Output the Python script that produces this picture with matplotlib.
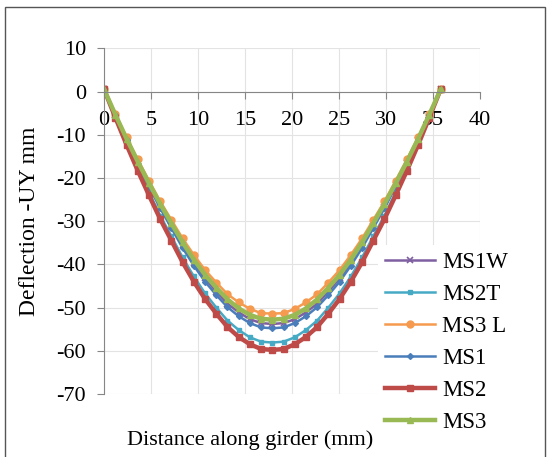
import numpy as np
import matplotlib
matplotlib.use("Agg")
import matplotlib.pyplot as plt
from matplotlib.patches import Rectangle

plt.rcParams['font.family'] = ['Liberation Serif', 'DejaVu Serif']
plt.rcParams['axes.unicode_minus'] = False

# distance along girder, 31 stations
x = np.linspace(0, 35.8, 31)

ms1w = [0.5, -5.4, -11.1, -16.5, -21.6, -26.6, -31.1, -35.6, -39.6, -43.2, -46.3, -49.1, -51.1, -52.7, -53.6, -53.8,
        -53.6, -52.7, -51.1, -49.1, -46.3, -43.2, -39.6, -35.6, -31.1, -26.6, -21.6, -16.5, -11.1, -5.4, 0.5]
ms2t = [0.5, -5.8, -12.0, -17.8, -23.3, -28.7, -33.5, -38.4, -42.8, -46.7, -50.0, -53.0, -55.2, -56.9, -57.9, -58.1,
        -57.9, -56.9, -55.2, -53.0, -50.0, -46.7, -42.8, -38.4, -33.5, -28.7, -23.3, -17.8, -12.0, -5.8, 0.5]
ms3l = [0.5, -5.2, -10.6, -15.7, -20.6, -25.4, -29.7, -34.0, -37.8, -41.3, -44.2, -46.9, -48.8, -50.3, -51.3, -51.4,
        -51.3, -50.3, -48.8, -46.9, -44.2, -41.3, -37.8, -34.0, -29.7, -25.4, -20.6, -15.7, -10.6, -5.2, 0.5]
ms1 = [0.5, -5.5, -11.3, -16.8, -22.0, -27.0, -31.6, -36.2, -40.3, -44.0, -47.1, -49.9, -52.0, -53.6, -54.6, -54.8,
       -54.6, -53.6, -52.0, -49.9, -47.1, -44.0, -40.3, -36.2, -31.6, -27.0, -22.0, -16.8, -11.3, -5.5, 0.5]
ms2 = [0.5, -6.0, -12.3, -18.3, -24.0, -29.5, -34.5, -39.5, -44.0, -48.0, -51.4, -54.5, -56.8, -58.5, -59.6, -59.8,
       -59.6, -58.5, -56.8, -54.5, -51.4, -48.0, -44.0, -39.5, -34.5, -29.5, -24.0, -18.3, -12.3, -6.0, 0.5]
ms3 = [0.5, -5.3, -10.9, -16.2, -21.2, -26.0, -30.5, -34.9, -38.9, -42.4, -45.4, -48.1, -50.2, -51.7, -52.6, -52.8,
       -52.6, -51.7, -50.2, -48.1, -45.4, -42.4, -38.9, -34.9, -30.5, -26.0, -21.2, -16.2, -10.9, -5.3, 0.5]

fig = plt.figure(figsize=(5.48, 4.57), dpi=100)
ax = fig.add_axes([0.190, 0.138, 0.686, 0.756])

ax.plot(x, ms1w, color="#7E5FA1", lw=1.8, marker="x", ms=4, mew=1.2, label="MS1W")
ax.plot(x, ms2t, color="#46AAC5", lw=1.8, marker="s", ms=3, label="MS2T")
ax.plot(x, ms3l, color="#F59A4E", lw=1.8, marker="o", ms=5, label="MS3 L")
ax.plot(x, ms1, color="#4A7EBB", lw=1.8, marker="D", ms=3, label="MS1")
ax.plot(x, ms2, color="#BE4B48", lw=3.2, marker="s", ms=5, label="MS2")
ax.plot(x, ms3, color="#98B954", lw=3.2, marker="^", ms=4, label="MS3")

ax.set_xlim(0, 40)
ax.set_ylim(-70, 10)
ax.set_xticks(np.arange(0, 41, 5))
ax.set_yticks(np.arange(-70, 11, 10))
ax.grid(True, color="#E3E3E3", lw=0.8)
ax.set_axisbelow(True)

for s in ["top", "right"]:
    ax.spines[s].set_visible(False)
ax.spines["bottom"].set_position(("data", 0))
ax.spines["left"].set_position(("data", 0))
ax.spines["bottom"].set_color("#868686")
ax.spines["left"].set_color("#868686")
ax.tick_params(colors="#868686", labelcolor="black", labelsize=16, length=5, direction="out")
ax.tick_params(axis="y", pad=8)
ax.tick_params(axis="x", pad=9)

ax.set_ylabel("Deflection -UY mm", fontsize=17)
ax.yaxis.set_label_coords(-0.17, 0.5)
fig.text(250 / 548, 1 - 440 / 457, "Distance along girder (mm)", ha="center", va="center", fontsize=16)

leg = ax.legend(loc="upper left", bbox_to_anchor=(378 / 548, 1 - 245 / 457), bbox_transform=fig.transFigure,
                fontsize=16.5, frameon=True, fancybox=False, edgecolor="none", framealpha=1,
                handlelength=2.2, handletextpad=0.3, labelspacing=0.48, borderpad=0.3, borderaxespad=0)

fig.patches.append(Rectangle((5 / 548, -0.01), 540 / 548, 1 - 7 / 457 + 0.01, transform=fig.transFigure,
                             fill=False, edgecolor="#555555", lw=1))

fig.savefig("out.png", dpi=100)
